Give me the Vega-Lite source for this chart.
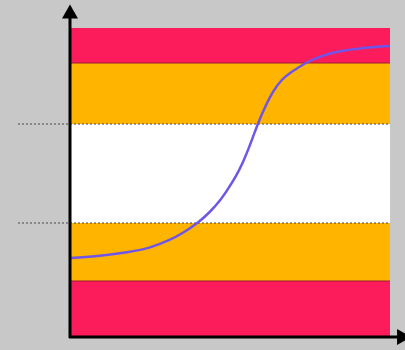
{
  "$schema": "https://vega.github.io/schema/vega-lite/v6.json",
  "width": 405,
  "height": 350,
  "padding": 0,
  "autosize": {"type": "none"},
  "background": "#c8c8c8",
  "config": {"view": {"stroke": null}},
  "layer": [
    {
      "data": {"values": [
        {"band": "red", "x0": 0, "x1": 320, "y0": 0, "y1": 56},
        {"band": "orange", "x0": 0, "x1": 320, "y0": 56, "y1": 114},
        {"band": "white", "x0": 0, "x1": 320, "y0": 114, "y1": 213},
        {"band": "orange", "x0": 0, "x1": 320, "y0": 213, "y1": 274},
        {"band": "red", "x0": 0, "x1": 320, "y0": 274, "y1": 309}
      ]},
      "mark": {"type": "rect"},
      "encoding": {
        "x": {"field": "x0", "type": "quantitative", "scale": {"domain": [-70, 335], "nice": false, "zero": false}, "axis": null},
        "x2": {"field": "x1"},
        "y": {"field": "y0", "type": "quantitative", "scale": {"domain": [-13, 337], "nice": false, "zero": false}, "axis": null},
        "y2": {"field": "y1"},
        "color": {"field": "band", "type": "nominal", "scale": {"domain": ["red", "orange", "white"], "range": ["#fc1c5c", "#ffb400", "#ffffff"]}, "legend": null}
      }
    },
    {
      "data": {"values": [{"y": 56}, {"y": 274}]},
      "mark": {"type": "rule", "color": "#9a1a36", "strokeWidth": 1},
      "encoding": {
        "x": {"datum": 0, "type": "quantitative"},
        "x2": {"datum": 320},
        "y": {"field": "y", "type": "quantitative"}
      }
    },
    {
      "data": {"values": [{"y": 114}, {"y": 213}]},
      "mark": {"type": "rule", "color": "#444444", "strokeWidth": 1, "strokeDash": [2, 2]},
      "encoding": {
        "x": {"datum": -52, "type": "quantitative"},
        "x2": {"datum": 320},
        "y": {"field": "y", "type": "quantitative"}
      }
    },
    {
      "data": {"values": [
        {"x": 0, "y": 79}, {"x": 30, "y": 81}, {"x": 60, "y": 85}, {"x": 80, "y": 89},
        {"x": 100, "y": 97}, {"x": 113, "y": 104}, {"x": 128, "y": 114}, {"x": 140, "y": 125},
        {"x": 150, "y": 136}, {"x": 158, "y": 148}, {"x": 165, "y": 159}, {"x": 172, "y": 172},
        {"x": 182, "y": 197}, {"x": 188, "y": 214}, {"x": 195, "y": 230}, {"x": 203, "y": 246},
        {"x": 212, "y": 258}, {"x": 220, "y": 264}, {"x": 235, "y": 274}, {"x": 250, "y": 281},
        {"x": 270, "y": 286}, {"x": 290, "y": 289}, {"x": 319, "y": 291}
      ]},
      "mark": {"type": "line", "color": "#6f55e8", "strokeWidth": 2.5, "interpolate": "basis"},
      "encoding": {
        "x": {"field": "x", "type": "quantitative"},
        "y": {"field": "y", "type": "quantitative"}
      }
    },
    {
      "data": {"values": [
        {"x0": 0, "x1": 0, "y0": -1, "y1": 320},
        {"x0": -1, "x1": 328, "y0": 0, "y1": 0}
      ]},
      "mark": {"type": "rule", "color": "#000000", "strokeWidth": 3},
      "encoding": {
        "x": {"field": "x0", "type": "quantitative"},
        "x2": {"field": "x1"},
        "y": {"field": "y0", "type": "quantitative"},
        "y2": {"field": "y1"}
      }
    },
    {
      "data": {"values": [
        {"x": 0, "y": 325.5, "dir": "up"},
        {"x": 334, "y": 0, "dir": "right"}
      ]},
      "mark": {"type": "point", "filled": true, "color": "#000000", "opacity": 1, "size": 256},
      "encoding": {
        "x": {"field": "x", "type": "quantitative"},
        "y": {"field": "y", "type": "quantitative"},
        "shape": {"field": "dir", "type": "nominal", "scale": {"domain": ["up", "right"], "range": ["triangle-up", "triangle-right"]}, "legend": null}
      }
    }
  ]
}
